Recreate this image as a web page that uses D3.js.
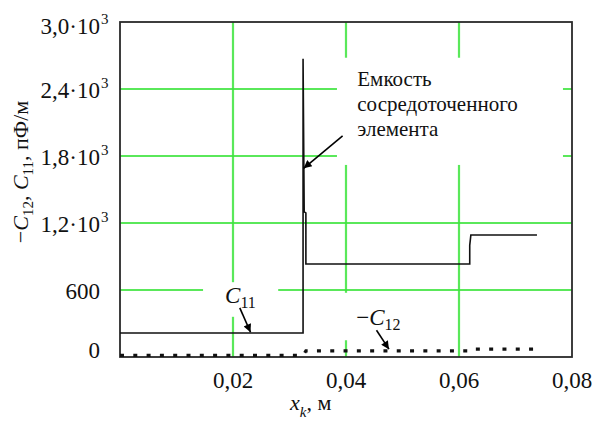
<!DOCTYPE html>
<html>
<head>
<meta charset="utf-8">
<script src="https://cdn.jsdelivr.net/npm/d3@7"></script>
</head>
<body style="margin:0">
<script>
// Data
var xTicks = [0.02, 0.04, 0.06, 0.08];
var xTickLabels = ["0,02", "0,04", "0,06", "0,08"];
var yTicks = [0, 600, 1200, 1800, 2400, 3000];
var yTickLabels = ["0", "600", "1,2·10", "1,8·10", "2,4·10", "3,0·10"];
var yTickExps = ["", "", "3", "3", "3", "3"];
var xGrid = [0.02, 0.04, 0.06];
var yGrid = [600, 1200, 1800, 2400];

// C11 (solid)
var c11X = [0, 0.0324, 0.0324, 0.0326, 0.0329, 0.0329, 0.0619, 0.0619, 0.0621, 0.0738];
var c11Y = [215, 215, 2670, 1300, 1290, 833, 833, 1000, 1093, 1093];
// -C12 (dotted)
var c12X = [0, 0.0324, 0.0329, 0.0619, 0.0622, 0.0738];
var c12Y = [14, 14, 55, 55, 70, 70];

var margin = {top: 22, right: 21, bottom: 76, left: 120},
    width = 593 - margin.left - margin.right,
    height = 433 - margin.top - margin.bottom;

var svg = d3.select("body").append("svg")
    .attr("width", 593)
    .attr("height", 433)
    .attr("font-family", "Liberation Serif");

var x = d3.scaleLinear().domain([0, 0.08]).range([margin.left, margin.left + width]);
var y = d3.scaleLinear().domain([0, 3000]).range([margin.top + height, margin.top]);

function addText(size) {
    return svg.append("text")
        .attr("font-family", "Liberation Serif")
        .attr("font-size", size)
        .style("font-family", "'Liberation Serif'")
        .style("font-size", size + "px")
        .attr("fill", "#111");
}

// arrow marker
svg.append("defs").append("marker")
    .attr("id", "arrow")
    .attr("viewBox", "0 0 10 10")
    .attr("refX", 10).attr("refY", 5)
    .attr("markerWidth", 12).attr("markerHeight", 8)
    .attr("markerUnits", "userSpaceOnUse")
    .attr("orient", "auto")
  .append("path")
    .attr("d", "M0,0 L10,5 L0,10 Z")
    .attr("fill", "#000");

// grid
svg.selectAll(".vgrid").data(xGrid).enter().append("line")
    .attr("x1", function(d) { return x(d); })
    .attr("x2", function(d) { return x(d); })
    .attr("y1", y(3000)).attr("y2", y(0))
    .attr("stroke", "#3ee43e").attr("stroke-width", 2.2).attr("opacity", 0.85);

svg.selectAll(".hgrid").data(yGrid).enter().append("line")
    .attr("y1", function(d) { return y(d); })
    .attr("y2", function(d) { return y(d); })
    .attr("x1", x(0)).attr("x2", x(0.08))
    .attr("stroke", "#3ee43e").attr("stroke-width", 2.2).attr("opacity", 0.85);

// white backgrounds behind the annotations (they cut the grid)
var boxes = [
    {x0: 0.0384, x1: 0.0784, y0: 2680, y1: 1720},   // big note
    {x0: 0.0147, x1: 0.0280, y0: 670, y1: 360},     // C11
    {x0: 0.0390, x1: 0.0510, y0: 575, y1: 150}      // -C12
];
svg.selectAll(".box").data(boxes).enter().append("rect")
    .attr("x", function(d) { return x(d.x0); })
    .attr("y", function(d) { return y(d.y0); })
    .attr("width", function(d) { return x(d.x1) - x(d.x0); })
    .attr("height", function(d) { return y(d.y1) - y(d.y0); })
    .attr("fill", "#fff");

// frame
svg.append("rect")
    .attr("x", x(0)).attr("y", y(3000))
    .attr("width", width).attr("height", height)
    .attr("fill", "none").attr("stroke", "#2a2a2a").attr("stroke-width", 1.8);

// series
var line = d3.line()
    .x(function(d) { return x(d[0]); })
    .y(function(d) { return y(d[1]); });

svg.append("path")
    .datum(d3.zip(c12X, c12Y))
    .attr("d", line)
    .attr("fill", "none")
    .attr("stroke", "#111")
    .attr("stroke-width", 3.2)
    .attr("stroke-dasharray", "4,9.3");

svg.append("path")
    .datum(d3.zip(c11X, c11Y))
    .attr("d", line)
    .attr("fill", "none")
    .attr("stroke", "#111")
    .attr("stroke-width", 1.6);

// x tick labels
xTicks.forEach(function(v, i) {
    addText(23)
        .attr("x", x(v))
        .attr("y", y(0) + 31)
        .attr("text-anchor", "middle")
        .text(xTickLabels[i]);
});

// y tick labels (mantissa right aligned, exponent hanging out)
var yShift = function(v) { return v === 3000 ? 4 : (v === 0 ? -7 : 1); };
yTicks.forEach(function(v, i) {
    addText(23)
        .attr("x", x(0) - 20)
        .attr("y", y(v) + yShift(v) + 8)
        .attr("text-anchor", "end")
        .text(yTickLabels[i]);
    if (yTickExps[i]) {
        addText(15)
            .attr("x", x(0) - 19)
            .attr("y", y(v) + yShift(v) - 2)
            .text(yTickExps[i]);
    }
});

// y title
var yt = addText(22)
    .attr("transform", "translate(28,172) rotate(-90)")
    .attr("text-anchor", "middle");
yt.append("tspan").text("\u2212");
yt.append("tspan").attr("font-style", "italic").text("C");
yt.append("tspan").attr("dy", 5).attr("font-size", 15).style("font-size", "15px").text("12");
yt.append("tspan").attr("dy", -5).text(", ");
yt.append("tspan").attr("font-style", "italic").text("C");
yt.append("tspan").attr("dy", 5).attr("font-size", 15).style("font-size", "15px").text("11");
yt.append("tspan").attr("dy", -5).text(", пФ/м");

// x title
var xt = addText(22)
    .attr("x", 290).attr("y", 410);
xt.append("tspan").attr("font-style", "italic").text("x");
xt.append("tspan").attr("dy", 7).attr("font-size", 15).style("font-size", "15px").attr("font-style", "italic").text("k");
xt.append("tspan").attr("dy", -7).text(", м");

// annotation: lumped element capacitance
var note = ["Емкость", "сосредоточенного", "элемента"];
note.forEach(function(s, i) {
    addText(21)
        .attr("x", x(0.042))
        .attr("y", y(2400) - 3 + i * 25)
        .text(s);
});

svg.append("line")
    .attr("x1", x(0.0394)).attr("y1", y(1980))
    .attr("x2", x(0.0325)).attr("y2", y(1690))
    .attr("stroke", "#000").attr("stroke-width", 1.6)
    .attr("marker-end", "url(#arrow)");

// C11 label
var l11 = addText(23)
    .attr("x", x(0.0186)).attr("y", y(480));
l11.append("tspan").attr("font-style", "italic").text("C");
l11.append("tspan").attr("dy", 5).attr("font-size", 16).style("font-size", "16px").text("11");

svg.append("line")
    .attr("x1", x(0.0212)).attr("y1", y(440))
    .attr("x2", x(0.0231)).attr("y2", y(222))
    .attr("stroke", "#000").attr("stroke-width", 1.6)
    .attr("marker-end", "url(#arrow)");

// -C12 label
var l12 = addText(23)
    .attr("x", x(0.0418)).attr("y", y(285));
l12.append("tspan").text("\u2212");
l12.append("tspan").attr("font-style", "italic").text("C");
l12.append("tspan").attr("dy", 5).attr("font-size", 16).style("font-size", "16px").text("12");

svg.append("line")
    .attr("x1", x(0.0454)).attr("y1", y(240))
    .attr("x2", x(0.0476)).attr("y2", y(70))
    .attr("stroke", "#000").attr("stroke-width", 1.6)
    .attr("marker-end", "url(#arrow)");
</script>
</body>
</html>
